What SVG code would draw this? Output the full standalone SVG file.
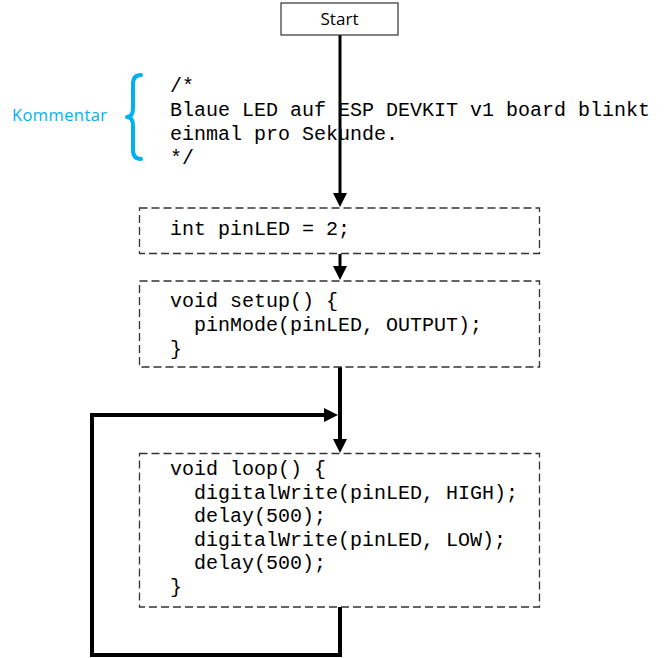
<svg xmlns="http://www.w3.org/2000/svg" width="671" height="658" viewBox="0 0 671 658">
  <style>
    .code { font-family: "Liberation Mono", "Courier New", monospace; font-size: 20px; fill: #000; white-space: pre; }
    .sans { font-family: "Open Sans", "Noto Sans", sans-serif; }
    .block { fill: #fff; stroke: #333; stroke-width: 1.3; stroke-dasharray: 8 4; }
    .flow { fill: none; stroke: #000; stroke-linejoin: miter; }
  </style>
  <defs>
    <marker id="arrow" markerUnits="userSpaceOnUse" markerWidth="16" markerHeight="16" refX="0" refY="7" orient="auto" overflow="visible">
      <path d="M0,0 L14,7 L0,14 Z" fill="#000"/>
    </marker>
  </defs>

  <rect width="671" height="658" fill="#fff"/>

  <!-- connectors -->
  <g id="connectors">
    <line class="flow" x1="340" y1="35" x2="340" y2="193" stroke-width="3" marker-end="url(#arrow)"/>
    <line class="flow" x1="340" y1="254" x2="340" y2="266" stroke-width="3" marker-end="url(#arrow)"/>
    <line class="flow" x1="340" y1="367" x2="340" y2="439" stroke-width="4" marker-end="url(#arrow)"/>
    <path class="flow" d="M340,607 V655 H92 V415 H324" stroke-width="4" marker-end="url(#arrow)"/>
  </g>

  <!-- start terminal -->
  <g id="start">
    <rect x="281" y="3" width="117" height="32" fill="#fff" stroke="#333" stroke-width="1.2"/>
    <text class="sans" x="339.5" y="25" font-size="17" text-anchor="middle" textLength="38">Start</text>
  </g>

  <!-- comment annotation -->
  <g id="comment">
    <text class="sans" x="12" y="121" font-size="16.5" fill="#00B0F0" textLength="95">Kommentar</text>
    <path d="M141,75 Q133,75 133,84 V108 Q133,117 127,117 Q133,117 133,126 V150 Q133,159 141,159" fill="none" stroke="#00B0F0" stroke-width="4" stroke-linecap="round" stroke-linejoin="round"/>
    <text class="code" x="170" y="92">/*</text>
    <text class="code" x="170" y="116">Blaue LED auf ESP DEVKIT v1 board blinkt</text>
    <text class="code" x="170" y="140">einmal pro Sekunde.</text>
    <text class="code" x="170" y="164">*/</text>
  </g>

  <!-- global declaration -->
  <g id="declaration">
    <rect class="block" x="139.5" y="208" width="400" height="45.5"/>
    <text class="code" x="170" y="235">int pinLED = 2;</text>
  </g>

  <!-- setup function -->
  <g id="setup">
    <rect class="block" x="139.5" y="281" width="400" height="86"/>
    <text class="code" x="170" y="307">void setup() {</text>
    <text class="code" x="194" y="331">pinMode(pinLED, OUTPUT);</text>
    <text class="code" x="170" y="355">}</text>
  </g>

  <!-- loop function -->
  <g id="loop">
    <rect class="block" x="139.5" y="453.5" width="400" height="153.5"/>
    <text class="code" x="170" y="475">void loop() {</text>
    <text class="code" x="194" y="498.5">digitalWrite(pinLED, HIGH);</text>
    <text class="code" x="194" y="522">delay(500);</text>
    <text class="code" x="194" y="545.5">digitalWrite(pinLED, LOW);</text>
    <text class="code" x="194" y="569">delay(500);</text>
    <text class="code" x="170" y="593">}</text>
  </g>
</svg>
